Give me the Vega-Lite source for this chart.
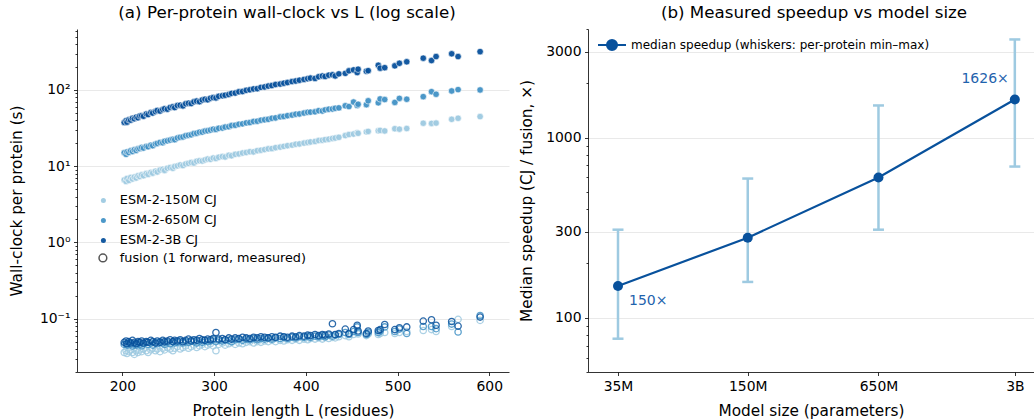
{
  "$schema": "https://vega.github.io/schema/vega-lite/v6.json",
  "padding": {"left": 9, "top": 4, "right": 0, "bottom": 0},
  "config": {
    "font": "DejaVu Sans",
    "view": {"stroke": null},
    "axis": {"domainColor": "#000000", "domainWidth": 0.8, "tickColor": "#000000", "tickWidth": 0.8, "labelColor": "#000000", "titleColor": "#000000", "labelFontSize": 13.9, "titleFontSize": 15.3, "titleFontWeight": "normal", "gridColor": "#e3e3e3", "gridWidth": 0.8, "labelPadding": 3.5, "tickSize": 3.5},
    "title": {"fontSize": 16.7, "fontWeight": "normal", "color": "#000000", "offset": 7},
    "legend": {"labelColor": "#000000", "labelFontSize": 12.8, "labelLimit": 500}
  },
  "datasets": {
    "prot": [
      {"L":202,"m":"150M","cj":6.6,"fu":0.036},{"L":204,"m":"150M","cj":6.3,"fu":0.038},{"L":205,"m":"150M","cj":6.9,"fu":0.035},{"L":207,"m":"150M","cj":6.5,"fu":0.037},{"L":209,"m":"150M","cj":7.1,"fu":0.039},{"L":211,"m":"150M","cj":6.8,"fu":0.036},{"L":213,"m":"150M","cj":7.2,"fu":0.034},{"L":215,"m":"150M","cj":7.0,"fu":0.038},{"L":217,"m":"150M","cj":7.5,"fu":0.036},{"L":219,"m":"150M","cj":7.3,"fu":0.039},{"L":221,"m":"150M","cj":7.7,"fu":0.037},{"L":223,"m":"150M","cj":7.5,"fu":0.040},{"L":226,"m":"150M","cj":8.0,"fu":0.038},{"L":228,"m":"150M","cj":7.8,"fu":0.036},{"L":231,"m":"150M","cj":8.3,"fu":0.039},{"L":233,"m":"150M","cj":8.1,"fu":0.041},{"L":236,"m":"150M","cj":8.6,"fu":0.038},{"L":238,"m":"150M","cj":8.4,"fu":0.040},{"L":241,"m":"150M","cj":8.9,"fu":0.037},{"L":244,"m":"150M","cj":9.1,"fu":0.041},{"L":246,"m":"150M","cj":8.8,"fu":0.039},{"L":249,"m":"150M","cj":9.4,"fu":0.042},{"L":252,"m":"150M","cj":9.6,"fu":0.040},{"L":255,"m":"150M","cj":9.4,"fu":0.038},{"L":257,"m":"150M","cj":9.9,"fu":0.041},{"L":260,"m":"150M","cj":10.1,"fu":0.043},{"L":263,"m":"150M","cj":10.4,"fu":0.040},{"L":266,"m":"150M","cj":10.2,"fu":0.042},{"L":269,"m":"150M","cj":10.7,"fu":0.044},{"L":272,"m":"150M","cj":10.9,"fu":0.041},{"L":275,"m":"150M","cj":11.2,"fu":0.043},{"L":278,"m":"150M","cj":11.0,"fu":0.045},{"L":281,"m":"150M","cj":11.6,"fu":0.042},{"L":284,"m":"150M","cj":11.8,"fu":0.044},{"L":287,"m":"150M","cj":11.7,"fu":0.046},{"L":290,"m":"150M","cj":12.1,"fu":0.043},{"L":293,"m":"150M","cj":12.4,"fu":0.045},{"L":296,"m":"150M","cj":12.3,"fu":0.047},{"L":299,"m":"150M","cj":12.8,"fu":0.044},{"L":302,"m":"150M","cj":12.6,"fu":0.038},{"L":305,"m":"150M","cj":13.1,"fu":0.046},{"L":309,"m":"150M","cj":13.4,"fu":0.048},{"L":312,"m":"150M","cj":13.2,"fu":0.045},{"L":316,"m":"150M","cj":13.9,"fu":0.047},{"L":319,"m":"150M","cj":13.7,"fu":0.049},{"L":323,"m":"150M","cj":14.3,"fu":0.046},{"L":327,"m":"150M","cj":14.5,"fu":0.048},{"L":331,"m":"150M","cj":14.9,"fu":0.047},{"L":335,"m":"150M","cj":15.1,"fu":0.049},{"L":339,"m":"150M","cj":15.5,"fu":0.050},{"L":343,"m":"150M","cj":15.4,"fu":0.048},{"L":347,"m":"150M","cj":16.0,"fu":0.050},{"L":351,"m":"150M","cj":16.2,"fu":0.049},{"L":355,"m":"150M","cj":16.5,"fu":0.051},{"L":359,"m":"150M","cj":16.9,"fu":0.050},{"L":363,"m":"150M","cj":17.0,"fu":0.052},{"L":367,"m":"150M","cj":17.5,"fu":0.050},{"L":372,"m":"150M","cj":17.8,"fu":0.052},{"L":376,"m":"150M","cj":18.2,"fu":0.051},{"L":380,"m":"150M","cj":18.6,"fu":0.053},{"L":385,"m":"150M","cj":18.9,"fu":0.052},{"L":389,"m":"150M","cj":19.4,"fu":0.054},{"L":393,"m":"150M","cj":19.6,"fu":0.052},{"L":398,"m":"150M","cj":20.1,"fu":0.054},{"L":402,"m":"150M","cj":20.5,"fu":0.053},{"L":405,"m":"150M","cj":20.8,"fu":0.055},{"L":410,"m":"150M","cj":21.1,"fu":0.054},{"L":414,"m":"150M","cj":21.7,"fu":0.056},{"L":418,"m":"150M","cj":21.9,"fu":0.054},{"L":421,"m":"150M","cj":22.3,"fu":0.057},{"L":425,"m":"150M","cj":22.6,"fu":0.055},{"L":429,"m":"150M","cj":23.1,"fu":0.057},{"L":432,"m":"150M","cj":23.4,"fu":0.056},{"L":436,"m":"150M","cj":23.9,"fu":0.058},{"L":443,"m":"150M","cj":25.2,"fu":0.060},{"L":447,"m":"150M","cj":26.0,"fu":0.058},{"L":452,"m":"150M","cj":26.4,"fu":0.062},{"L":456,"m":"150M","cj":27.5,"fu":0.066},{"L":457,"m":"150M","cj":27.0,"fu":0.063},{"L":466,"m":"150M","cj":28.2,"fu":0.060},{"L":468,"m":"150M","cj":28.6,"fu":0.063},{"L":479,"m":"150M","cj":29.2,"fu":0.062},{"L":481,"m":"150M","cj":29.5,"fu":0.064},{"L":486,"m":"150M","cj":29.0,"fu":0.066},{"L":497,"m":"150M","cj":31.0,"fu":0.064},{"L":502,"m":"150M","cj":30.6,"fu":0.066},{"L":510,"m":"150M","cj":31.2,"fu":0.068},{"L":528,"m":"150M","cj":36.6,"fu":0.070},{"L":537,"m":"150M","cj":36.4,"fu":0.072},{"L":542,"m":"150M","cj":36.8,"fu":0.068},{"L":559,"m":"150M","cj":41.2,"fu":0.079},{"L":566,"m":"150M","cj":42.5,"fu":0.098},{"L":590,"m":"150M","cj":44.7,"fu":0.095},
      {"L":202,"m":"650M","cj":15.0,"fu":0.046},{"L":204,"m":"650M","cj":14.3,"fu":0.047},{"L":205,"m":"650M","cj":15.4,"fu":0.045},{"L":207,"m":"650M","cj":15.1,"fu":0.048},{"L":209,"m":"650M","cj":15.9,"fu":0.046},{"L":211,"m":"650M","cj":15.6,"fu":0.044},{"L":213,"m":"650M","cj":16.4,"fu":0.047},{"L":215,"m":"650M","cj":16.1,"fu":0.045},{"L":217,"m":"650M","cj":16.9,"fu":0.048},{"L":219,"m":"650M","cj":17.0,"fu":0.046},{"L":221,"m":"650M","cj":17.6,"fu":0.044},{"L":223,"m":"650M","cj":17.3,"fu":0.047},{"L":226,"m":"650M","cj":18.2,"fu":0.049},{"L":228,"m":"650M","cj":18.0,"fu":0.046},{"L":231,"m":"650M","cj":18.9,"fu":0.048},{"L":233,"m":"650M","cj":18.6,"fu":0.045},{"L":236,"m":"650M","cj":19.6,"fu":0.049},{"L":238,"m":"650M","cj":19.9,"fu":0.047},{"L":241,"m":"650M","cj":20.5,"fu":0.050},{"L":244,"m":"650M","cj":20.3,"fu":0.048},{"L":246,"m":"650M","cj":21.2,"fu":0.046},{"L":249,"m":"650M","cj":21.5,"fu":0.049},{"L":252,"m":"650M","cj":22.0,"fu":0.047},{"L":255,"m":"650M","cj":22.6,"fu":0.050},{"L":257,"m":"650M","cj":22.3,"fu":0.048},{"L":260,"m":"650M","cj":23.5,"fu":0.049},{"L":263,"m":"650M","cj":23.9,"fu":0.051},{"L":266,"m":"650M","cj":24.2,"fu":0.048},{"L":269,"m":"650M","cj":25.1,"fu":0.050},{"L":272,"m":"650M","cj":25.5,"fu":0.049},{"L":275,"m":"650M","cj":25.8,"fu":0.052},{"L":278,"m":"650M","cj":26.8,"fu":0.050},{"L":281,"m":"650M","cj":27.1,"fu":0.048},{"L":284,"m":"650M","cj":27.9,"fu":0.051},{"L":287,"m":"650M","cj":28.0,"fu":0.049},{"L":290,"m":"650M","cj":28.9,"fu":0.052},{"L":293,"m":"650M","cj":29.2,"fu":0.050},{"L":296,"m":"650M","cj":29.8,"fu":0.051},{"L":299,"m":"650M","cj":30.6,"fu":0.053},{"L":302,"m":"650M","cj":30.3,"fu":0.050},{"L":305,"m":"650M","cj":31.4,"fu":0.052},{"L":309,"m":"650M","cj":31.7,"fu":0.051},{"L":312,"m":"650M","cj":32.6,"fu":0.053},{"L":316,"m":"650M","cj":33.0,"fu":0.052},{"L":319,"m":"650M","cj":34.1,"fu":0.050},{"L":323,"m":"650M","cj":34.4,"fu":0.053},{"L":327,"m":"650M","cj":35.5,"fu":0.054},{"L":331,"m":"650M","cj":35.9,"fu":0.052},{"L":335,"m":"650M","cj":37.0,"fu":0.054},{"L":339,"m":"650M","cj":37.3,"fu":0.053},{"L":343,"m":"650M","cj":38.6,"fu":0.055},{"L":347,"m":"650M","cj":38.9,"fu":0.053},{"L":351,"m":"650M","cj":40.1,"fu":0.055},{"L":355,"m":"650M","cj":40.6,"fu":0.054},{"L":359,"m":"650M","cj":41.2,"fu":0.056},{"L":363,"m":"650M","cj":42.5,"fu":0.054},{"L":367,"m":"650M","cj":43.0,"fu":0.056},{"L":372,"m":"650M","cj":44.4,"fu":0.055},{"L":376,"m":"650M","cj":44.9,"fu":0.057},{"L":380,"m":"650M","cj":46.0,"fu":0.055},{"L":385,"m":"650M","cj":46.8,"fu":0.057},{"L":389,"m":"650M","cj":48.1,"fu":0.056},{"L":393,"m":"650M","cj":48.5,"fu":0.058},{"L":398,"m":"650M","cj":49.8,"fu":0.057},{"L":402,"m":"650M","cj":50.9,"fu":0.059},{"L":405,"m":"650M","cj":51.2,"fu":0.057},{"L":410,"m":"650M","cj":51.6,"fu":0.059},{"L":414,"m":"650M","cj":53.5,"fu":0.058},{"L":418,"m":"650M","cj":53.0,"fu":0.060},{"L":421,"m":"650M","cj":54.8,"fu":0.058},{"L":425,"m":"650M","cj":55.9,"fu":0.061},{"L":429,"m":"650M","cj":56.3,"fu":0.059},{"L":432,"m":"650M","cj":57.5,"fu":0.061},{"L":436,"m":"650M","cj":58.2,"fu":0.062},{"L":443,"m":"650M","cj":62.0,"fu":0.066},{"L":447,"m":"650M","cj":60.5,"fu":0.062},{"L":452,"m":"650M","cj":69.4,"fu":0.068},{"L":456,"m":"650M","cj":62.5,"fu":0.078},{"L":457,"m":"650M","cj":65.0,"fu":0.066},{"L":466,"m":"650M","cj":64.1,"fu":0.062},{"L":468,"m":"650M","cj":72.1,"fu":0.066},{"L":479,"m":"650M","cj":67.8,"fu":0.066},{"L":481,"m":"650M","cj":76.3,"fu":0.069},{"L":486,"m":"650M","cj":74.8,"fu":0.078},{"L":497,"m":"650M","cj":68.6,"fu":0.068},{"L":502,"m":"650M","cj":77.5,"fu":0.073},{"L":510,"m":"650M","cj":75.5,"fu":0.064},{"L":528,"m":"650M","cj":81.7,"fu":0.079},{"L":537,"m":"650M","cj":95.0,"fu":0.079},{"L":542,"m":"650M","cj":87.8,"fu":0.074},{"L":559,"m":"650M","cj":97.0,"fu":0.085},{"L":566,"m":"650M","cj":101.0,"fu":0.067},{"L":590,"m":"650M","cj":100.0,"fu":0.110},
      {"L":202,"m":"3B","cj":37.5,"fu":0.049},{"L":204,"m":"3B","cj":39.5,"fu":0.051},{"L":205,"m":"3B","cj":37.8,"fu":0.047},{"L":207,"m":"3B","cj":40.6,"fu":0.050},{"L":209,"m":"3B","cj":40.2,"fu":0.048},{"L":211,"m":"3B","cj":42.5,"fu":0.052},{"L":213,"m":"3B","cj":41.9,"fu":0.049},{"L":215,"m":"3B","cj":44.0,"fu":0.047},{"L":217,"m":"3B","cj":43.1,"fu":0.050},{"L":219,"m":"3B","cj":45.6,"fu":0.049},{"L":221,"m":"3B","cj":46.0,"fu":0.051},{"L":223,"m":"3B","cj":45.2,"fu":0.048},{"L":226,"m":"3B","cj":48.3,"fu":0.050},{"L":228,"m":"3B","cj":47.5,"fu":0.049},{"L":231,"m":"3B","cj":50.6,"fu":0.052},{"L":233,"m":"3B","cj":49.8,"fu":0.050},{"L":236,"m":"3B","cj":52.0,"fu":0.048},{"L":238,"m":"3B","cj":53.9,"fu":0.051},{"L":241,"m":"3B","cj":52.8,"fu":0.049},{"L":244,"m":"3B","cj":55.5,"fu":0.052},{"L":246,"m":"3B","cj":56.8,"fu":0.050},{"L":249,"m":"3B","cj":55.9,"fu":0.051},{"L":252,"m":"3B","cj":59.0,"fu":0.053},{"L":255,"m":"3B","cj":60.3,"fu":0.050},{"L":257,"m":"3B","cj":58.7,"fu":0.052},{"L":260,"m":"3B","cj":62.5,"fu":0.051},{"L":263,"m":"3B","cj":63.1,"fu":0.053},{"L":266,"m":"3B","cj":61.8,"fu":0.050},{"L":269,"m":"3B","cj":65.9,"fu":0.052},{"L":272,"m":"3B","cj":67.0,"fu":0.054},{"L":275,"m":"3B","cj":66.2,"fu":0.051},{"L":278,"m":"3B","cj":69.8,"fu":0.053},{"L":281,"m":"3B","cj":71.5,"fu":0.052},{"L":284,"m":"3B","cj":70.2,"fu":0.055},{"L":287,"m":"3B","cj":74.0,"fu":0.053},{"L":290,"m":"3B","cj":75.6,"fu":0.052},{"L":293,"m":"3B","cj":74.3,"fu":0.054},{"L":296,"m":"3B","cj":78.0,"fu":0.053},{"L":299,"m":"3B","cj":79.4,"fu":0.055},{"L":302,"m":"3B","cj":78.6,"fu":0.066},{"L":305,"m":"3B","cj":82.5,"fu":0.054},{"L":309,"m":"3B","cj":84.0,"fu":0.055},{"L":312,"m":"3B","cj":85.3,"fu":0.053},{"L":316,"m":"3B","cj":87.1,"fu":0.056},{"L":319,"m":"3B","cj":90.2,"fu":0.054},{"L":323,"m":"3B","cj":91.0,"fu":0.056},{"L":327,"m":"3B","cj":94.6,"fu":0.055},{"L":331,"m":"3B","cj":95.3,"fu":0.057},{"L":335,"m":"3B","cj":98.8,"fu":0.056},{"L":339,"m":"3B","cj":100.5,"fu":0.055},{"L":343,"m":"3B","cj":103.2,"fu":0.057},{"L":347,"m":"3B","cj":104.0,"fu":0.056},{"L":351,"m":"3B","cj":108.1,"fu":0.058},{"L":355,"m":"3B","cj":109.5,"fu":0.057},{"L":359,"m":"3B","cj":112.4,"fu":0.056},{"L":363,"m":"3B","cj":114.0,"fu":0.058},{"L":367,"m":"3B","cj":117.8,"fu":0.057},{"L":372,"m":"3B","cj":119.5,"fu":0.059},{"L":376,"m":"3B","cj":122.6,"fu":0.058},{"L":380,"m":"3B","cj":125.0,"fu":0.057},{"L":385,"m":"3B","cj":128.7,"fu":0.059},{"L":389,"m":"3B","cj":131.0,"fu":0.058},{"L":393,"m":"3B","cj":134.2,"fu":0.060},{"L":398,"m":"3B","cj":137.5,"fu":0.059},{"L":402,"m":"3B","cj":140.6,"fu":0.061},{"L":405,"m":"3B","cj":143.0,"fu":0.060},{"L":410,"m":"3B","cj":141.5,"fu":0.062},{"L":414,"m":"3B","cj":148.9,"fu":0.060},{"L":418,"m":"3B","cj":152.3,"fu":0.062},{"L":421,"m":"3B","cj":150.1,"fu":0.061},{"L":425,"m":"3B","cj":156.4,"fu":0.063},{"L":429,"m":"3B","cj":158.0,"fu":0.086},{"L":432,"m":"3B","cj":152.7,"fu":0.062},{"L":436,"m":"3B","cj":162.5,"fu":0.064},{"L":443,"m":"3B","cj":165.0,"fu":0.073},{"L":447,"m":"3B","cj":178.0,"fu":0.064},{"L":452,"m":"3B","cj":183.0,"fu":0.072},{"L":456,"m":"3B","cj":169.0,"fu":0.082},{"L":457,"m":"3B","cj":187.0,"fu":0.069},{"L":466,"m":"3B","cj":176.0,"fu":0.064},{"L":468,"m":"3B","cj":179.0,"fu":0.069},{"L":479,"m":"3B","cj":211.0,"fu":0.070},{"L":481,"m":"3B","cj":193.0,"fu":0.072},{"L":486,"m":"3B","cj":196.0,"fu":0.084},{"L":497,"m":"3B","cj":207.0,"fu":0.072},{"L":502,"m":"3B","cj":224.0,"fu":0.076},{"L":510,"m":"3B","cj":234.0,"fu":0.078},{"L":528,"m":"3B","cj":261.0,"fu":0.093},{"L":537,"m":"3B","cj":243.0,"fu":0.097},{"L":542,"m":"3B","cj":274.0,"fu":0.082},{"L":559,"m":"3B","cj":298.0,"fu":0.092},{"L":566,"m":"3B","cj":274.0,"fu":0.080},{"L":590,"m":"3B","cj":318.0,"fu":0.105}
    ],
    "speed": [
      {"model":"35M","params":35000000,"median":150,"lo":76.5,"hi":308},
      {"model":"150M","params":150000000,"median":278,"lo":158,"hi":592},
      {"model":"650M","params":650000000,"median":600,"lo":308,"hi":1506},
      {"model":"3B","params":3000000000,"median":1626,"lo":690,"hi":3500}
    ]
  },
  "hconcat": [
    {
      "width": 432, "height": 343,
      "title": {"text": "(a) Per-protein wall-clock vs L (log scale)", "dx": -6},
      "data": {"name": "prot"},
      "encoding": {
        "x": {"field": "L", "type": "quantitative", "scale": {"domain": [150.5, 621.5], "nice": false, "zero": false}, "axis": {"values": [200,300,400,500,600], "grid": false, "title": "Protein length L (residues)", "titlePadding": 11}}
      },
      "layer": [
        {
          "mark": {"type": "point", "filled": true, "size": 42, "opacity": 0.95, "stroke": "white", "strokeWidth": 0.6},
          "encoding": {
            "y": {"field": "cj", "type": "quantitative", "scale": {"type": "log", "domain": [0.02, 630], "nice": false}, "axis": {"title": "Wall-clock per protein (s)", "titleX": -53, "values": [0.02,0.03,0.04,0.05,0.06,0.07,0.08,0.09,0.1,0.2,0.3,0.4,0.5,0.6,0.7,0.8,0.9,1,2,3,4,5,6,7,8,9,10,20,30,40,50,60,70,80,90,100,200,300,400,500,600], "labelExpr": "datum.value == 0.1 ? '10⁻¹' : datum.value == 1 ? '10⁰' : datum.value == 10 ? '10¹' : datum.value == 100 ? '10²' : ''", "tickSize": {"condition": {"test": "datum.value == 0.1 || datum.value == 1 || datum.value == 10 || datum.value == 100", "value": 3.5}, "value": 2}, "gridOpacity": {"condition": {"test": "datum.value == 0.1 || datum.value == 1 || datum.value == 10 || datum.value == 100", "value": 1}, "value": 0}}},
            "color": {"field": "m", "type": "nominal", "scale": {"domain": ["150M","650M","3B"], "range": ["#9ecae1","#4292c6","#08519c"]}, "legend": {"orient": "none", "legendX": 20, "legendY": 165, "title": null, "padding": 0, "rowPadding": 6, "labelOffset": 10, "symbolSize": 25, "symbolStrokeWidth": 0, "labelExpr": "'ESM-2-' + datum.value + ' CJ'"}}
          }
        },
        {
          "mark": {"type": "point", "filled": false, "size": 40, "opacity": 0.85, "strokeWidth": 1.3, "color": "#555555"},
          "encoding": {
            "y": {"field": "fu", "type": "quantitative", "scale": {"type": "log", "domain": [0.02, 630], "nice": false}, "axis": {"title": "Wall-clock per protein (s)", "titleX": -53, "values": [0.02,0.03,0.04,0.05,0.06,0.07,0.08,0.09,0.1,0.2,0.3,0.4,0.5,0.6,0.7,0.8,0.9,1,2,3,4,5,6,7,8,9,10,20,30,40,50,60,70,80,90,100,200,300,400,500,600], "labelExpr": "datum.value == 0.1 ? '10⁻¹' : datum.value == 1 ? '10⁰' : datum.value == 10 ? '10¹' : datum.value == 100 ? '10²' : ''", "tickSize": {"condition": {"test": "datum.value == 0.1 || datum.value == 1 || datum.value == 10 || datum.value == 100", "value": 3.5}, "value": 2}, "gridOpacity": {"condition": {"test": "datum.value == 0.1 || datum.value == 1 || datum.value == 10 || datum.value == 100", "value": 1}, "value": 0}}},
            "stroke": {"field": "m", "type": "nominal", "scale": {"domain": ["150M","650M","3B"], "range": ["#9ecae1","#4292c6","#08519c"]}, "legend": null},
            "shape": {"datum": "fusion (1 forward, measured)", "type": "nominal", "scale": {"range": ["circle"]}, "legend": {"orient": "none", "legendX": 19.5, "legendY": 222.5, "title": null, "padding": 0, "labelOffset": 10.5, "symbolSize": 60, "symbolStrokeWidth": 1.5, "symbolStrokeColor": "#555555", "symbolFillColor": "transparent", "symbolOpacity": 1}}
          }
        }
      ]
    },
    {
      "width": 446, "height": 343,
      "title": {"text": "(b) Measured speedup vs model size", "dx": 3},
      "data": {"name": "speed"},
      "encoding": {
        "x": {"field": "params", "type": "quantitative", "scale": {"type": "log", "domain": [25000000, 3720000000], "nice": false}, "axis": {"values": [35000000,150000000,650000000,3000000000], "grid": false, "title": "Model size (parameters)", "titlePadding": 11, "labelExpr": "datum.value < 100000000 ? '35M' : datum.value < 300000000 ? '150M' : datum.value < 1000000000 ? '650M' : '3B'"}}
      },
      "layer": [
        {
          "mark": {"type": "rule", "color": "#9ecae1", "strokeWidth": 2.5},
          "encoding": {
            "y": {"field": "lo", "type": "quantitative", "scale": {"type": "log", "domain": [50, 4000], "nice": false}, "axis": {"title": "Median speedup (CJ / fusion, ×)", "titleX": -54, "values": [50,60,70,80,90,100,200,300,400,500,600,700,800,900,1000,2000,3000,4000], "labelExpr": "datum.value == 100 || datum.value == 300 || datum.value == 1000 || datum.value == 3000 ? '' + datum.value : ''", "tickSize": {"condition": {"test": "datum.value == 100 || datum.value == 300 || datum.value == 1000 || datum.value == 3000", "value": 3.5}, "value": 2}, "gridOpacity": {"condition": {"test": "datum.value == 100 || datum.value == 300 || datum.value == 1000 || datum.value == 3000", "value": 1}, "value": 0}}},
            "y2": {"field": "hi"}
          }
        },
        {
          "mark": {"type": "tick", "orient": "horizontal", "color": "#9ecae1", "size": 11, "thickness": 2.5, "opacity": 1},
          "encoding": {"y": {"field": "lo", "type": "quantitative"}}
        },
        {
          "mark": {"type": "tick", "orient": "horizontal", "color": "#9ecae1", "size": 11, "thickness": 2.5, "opacity": 1},
          "encoding": {"y": {"field": "hi", "type": "quantitative"}}
        },
        {
          "mark": {"type": "line", "strokeWidth": 2.2},
          "encoding": {
            "y": {"field": "median", "type": "quantitative"},
            "color": {"datum": "median speedup (whiskers: per-protein min–max)", "type": "nominal", "scale": {"range": ["#08519c"]}, "legend": {"orient": "none", "legendX": 9, "legendY": 1, "title": null, "padding": 0, "labelFontSize": 12, "labelOffset": 4, "symbolSize": 784, "symbolStrokeWidth": 2, "symbolType": "M-1,0L1,0M0.36,0A0.36,0.36,0,1,1,-0.36,0A0.36,0.36,0,1,1,0.36,0Z", "encode": {"symbols": {"update": {"fill": {"value": "#08519c"}, "stroke": {"value": "#08519c"}, "strokeWidth": {"value": 2}, "opacity": {"value": 1}}}}}}
          }
        },
        {
          "mark": {"type": "point", "filled": true, "size": 100, "opacity": 1, "color": "#08519c"},
          "encoding": {"y": {"field": "median", "type": "quantitative"}}
        },
        {
          "transform": [{"filter": "datum.model == '35M'"}],
          "mark": {"type": "text", "align": "left", "baseline": "middle", "dx": 11, "dy": 15, "fontSize": 14, "color": "#1f63ad"},
          "encoding": {"y": {"field": "median", "type": "quantitative"}, "text": {"value": "150×"}}
        },
        {
          "transform": [{"filter": "datum.model == '3B'"}],
          "mark": {"type": "text", "align": "right", "baseline": "middle", "dx": -6, "dy": -20, "fontSize": 14, "color": "#1f63ad"},
          "encoding": {"y": {"field": "median", "type": "quantitative"}, "text": {"value": "1626×"}}
        }
      ]
    }
  ],
  "spacing": 79,
  "bounds": "flush",
  "resolve": {"scale": {"color": "independent"}, "legend": {"color": "independent"}}
}
